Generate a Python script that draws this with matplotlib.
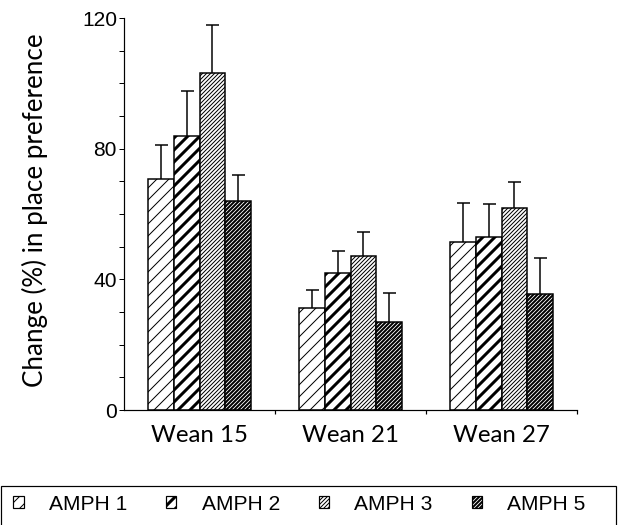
import matplotlib
matplotlib.use("Agg")
import matplotlib.pyplot as plt
import matplotlib.patches as mpatches
import numpy as np

groups = ["Wean 15", "Wean 21", "Wean 27"]
series = ["AMPH 1", "AMPH 2", "AMPH 3", "AMPH 5"]
amph1 = [70.7, 31.2, 51.5]
amph2 = [83.8, 41.8, 53.1]
amph3 = [103.2, 47.2, 61.7]
amph5 = [64.0, 26.9, 35.6]
amph1_err = [10.4, 5.5, 12.0]
amph2_err = [13.8, 7.0, 9.9]
amph3_err = [14.7, 7.4, 8.0]
amph5_err = [8.0, 8.9, 10.8]
yticks = [0, 40, 80, 120]

means = [amph1, amph2, amph3, amph5]
errs = [amph1_err, amph2_err, amph3_err, amph5_err]
hatches = ["//", "//", "//////", "//////"]
hatch_lws = [1.0, 3.0, 1.0, 2.0]

DPI = 72
fig = plt.figure(figsize=(621 / DPI, 525 / DPI), dpi=DPI)
ax = fig.add_axes([124 / 621, 1 - 410 / 525, 453 / 621, 392 / 525])

x = np.arange(len(groups))
w = 0.17
offsets = [-1.5 * w, -0.5 * w, 0.5 * w, 1.5 * w]
handles = []
for i in range(4):
    bars = ax.bar(x + offsets[i], means[i], width=w, color="white", edgecolor="black",
                  linewidth=1.5, hatch=hatches[i], label=series[i], zorder=2)
    for b in bars:
        if hasattr(b, "set_hatch_linewidth"):
            b.set_hatch_linewidth(hatch_lws[i])
    handles.append(bars[0])
    eb = ax.errorbar(x + offsets[i], means[i], yerr=[np.zeros(3), errs[i]], fmt="none",
                     ecolor="black", elinewidth=1.5, capsize=6.5, capthick=1.5, zorder=3)
    eb[1][0].set_visible(False)

ax.set_xlim(-0.5, 2.5)
ax.set_ylim(0, 120)
ax.spines["top"].set_visible(False)
ax.spines["right"].set_visible(False)
ax.spines["left"].set_linewidth(1.2)
ax.spines["bottom"].set_linewidth(1.2)

ax.set_xticks(x)
ax.set_xticklabels(groups, fontfamily="Lato", fontsize=24)
ax.set_xticks([0.5, 1.5, 2.5], minor=True)
ax.tick_params(axis="x", which="major", length=0, pad=15)
ax.tick_params(axis="x", which="minor", length=4, width=1.2, direction="out")

ax.set_yticks(yticks)
ax.set_yticklabels([str(v) for v in yticks], fontfamily="Liberation Sans", fontsize=21)
ax.set_yticks(np.arange(0, 121, 10), minor=True)
ax.tick_params(axis="y", which="both", length=5, width=1.0, direction="out", pad=2)

ax.set_ylabel("Change (%) in place preference", fontfamily="Lato", fontsize=26)
ax.yaxis.set_label_coords(-0.168, 0.51)

leg = fig.legend(handles=handles, labels=series, loc="center left",
                 bbox_to_anchor=(13 / 621, 1 - 504 / 525), ncol=4, frameon=False,
                 prop={"family": "Liberation Sans", "size": 21},
                 handlelength=0.5, handleheight=0.5, handletextpad=1.2,
                 columnspacing=1.85, borderpad=0, borderaxespad=0)
for h, lw in zip(leg.legend_handles, hatch_lws):
    if hasattr(h, "set_hatch_linewidth"):
        h.set_hatch_linewidth(lw)
    h.set_linewidth(1.2)

rect = mpatches.Rectangle((1 / 621, -0.05), 615 / 621, 0.05 + 39 / 525,
                          transform=fig.transFigure, fill=False, edgecolor="black",
                          linewidth=1.2)
fig.patches.append(rect)

fig.savefig("out.png", dpi=DPI)
